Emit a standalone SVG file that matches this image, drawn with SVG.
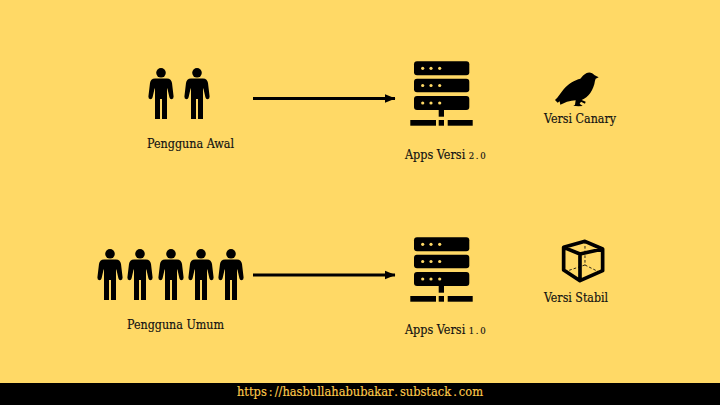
<svg xmlns="http://www.w3.org/2000/svg" width="720" height="405" viewBox="0 0 720 405">
<style>
text{font-family:"DejaVu Serif Condensed","DejaVu Serif","Liberation Serif",serif;fill:#111;font-size:12.5px;stroke:#111;stroke-width:.15}
.num{font-size:9.5px;letter-spacing:1.6px}
.wire{fill:none;stroke:#000;stroke-width:2.8}
.dot{fill:#ffd966}
</style>
<defs>
<marker id="arrow" markerUnits="userSpaceOnUse" markerWidth="11" markerHeight="10" refX="10.5" refY="5" orient="auto"><path d="M0,0.5L11,5L0,9.5Z"/></marker>
<g id="person">
<circle cx="0" cy="4.8" r="4.8"/>
<path d="M-6,10.6H6C9,10.6 10.6,12.5 11,15L12.6,28.5Q12.7,31 10.6,31.2Q8.8,31.2 8.4,29.3L6.4,20.5L6,20.5V51H1V31H-1V51H-6V20.5L-6.4,20.5L-8.4,29.3Q-8.8,31.2 -10.6,31.2Q-12.7,31 -12.6,28.5L-11,15C-10.6,12.5 -9,10.6 -6,10.6Z"/>
</g>
<g id="server">
<rect x="414" y="61.3" width="55.3" height="14" rx="3"/>
<rect x="414" y="78.7" width="55.3" height="13.6" rx="3"/>
<rect x="414" y="96" width="55.3" height="14" rx="3"/>
<g class="dot"><circle cx="422.7" cy="68.3" r="1.6"/><circle cx="431" cy="68.3" r="1.6"/><circle cx="439.7" cy="68.3" r="1.6"/><circle cx="422.7" cy="85.5" r="1.6"/><circle cx="431" cy="85.5" r="1.6"/><circle cx="439.7" cy="85.5" r="1.6"/><circle cx="422.7" cy="103" r="1.6"/><circle cx="431" cy="103" r="1.6"/><circle cx="439.7" cy="103" r="1.6"/></g>
<rect x="438.7" y="110" width="5.3" height="6.7"/>
<rect x="410.3" y="120" width="25.7" height="5.7"/>
<rect x="438.7" y="120" width="5.3" height="5.7"/>
<rect x="447.7" y="120" width="25" height="5.7"/>
</g>
</defs>
<rect width="720" height="405" fill="#ffd966"/>
<g id="connectors">
<path class="wire" d="M253,98.5H395" marker-end="url(#arrow)"/>
<path class="wire" d="M253,275H395" marker-end="url(#arrow)"/>
</g>
<g id="early-users">
<use href="#person" x="161" y="68"/><use href="#person" x="197" y="68"/>
<text x="147" y="148" textLength="87" lengthAdjust="spacingAndGlyphs">Pengguna Awal</text>
</g>
<g id="general-users">
<use href="#person" x="110" y="249"/><use href="#person" x="140" y="249"/><use href="#person" x="171" y="249"/><use href="#person" x="201" y="249"/><use href="#person" x="231" y="249"/>
<text x="127" y="329" textLength="97" lengthAdjust="spacingAndGlyphs">Pengguna Umum</text>
</g>
<g id="apps-v2">
<use href="#server"/>
<text x="405" y="159">Apps Versi <tspan class="num">2.0</tspan></text>
</g>
<g id="apps-v1">
<use href="#server" y="176"/>
<text x="405" y="334">Apps Versi <tspan class="num">1.0</tspan></text>
</g>
<g id="canary">
<path transform="translate(545,60) scale(.3333)" d="M161,52L149,46C143,38 133,35 125,39C117,43 111,50 106,56C90,60 68,72 56,88C46,100 40,112 30,120L38,128L44,124L46,134L66,125C76,123 84,122 92,121L90,134L85,137L100,139L113,138L104,131L108,125L120,131L122,125L110,120C130,112 146,90 150,62L152,56Z"/>
<text x="544" y="123" textLength="72" lengthAdjust="spacingAndGlyphs">Versi Canary</text>
</g>
<g id="stable">
<g transform="translate(385,230) scale(.3333)" fill="none" stroke="#000">
<path stroke-width="11" stroke-linejoin="round" d="M600,34L536,52V120L585,152L653,122V57ZM536,52L585,72L653,57M585,72V152"/>
<path stroke-width="2.5" stroke-dasharray="8 6" d="M600,34V105M600,105L540,125M600,105L650,130"/>
</g>
<text x="544" y="302" textLength="64" lengthAdjust="spacingAndGlyphs">Versi Stabil</text>
</g>
<g id="footer">
<rect y="383" width="720" height="22" fill="#000"/>
<text x="237" y="396" textLength="246" lengthAdjust="spacingAndGlyphs" style="fill:#fdc94a;stroke:#fdc94a">https<tspan dx="2">:</tspan><tspan dx="2">//hasbullahabubakar</tspan><tspan dx="2">.</tspan><tspan dx="2">substack</tspan><tspan dx="2">.</tspan><tspan dx="2">com</tspan></text>
</g>
</svg>
